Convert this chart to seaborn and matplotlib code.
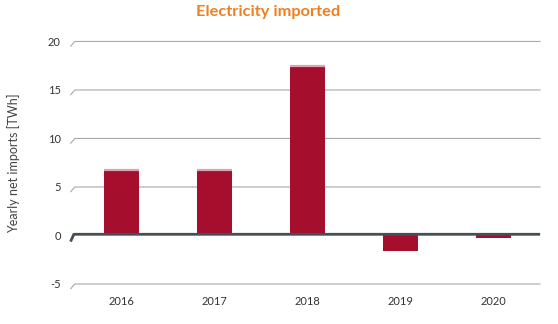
import matplotlib
matplotlib.use("Agg")
import matplotlib.pyplot as plt
import matplotlib.transforms as mtransforms
import numpy as np
import pandas as pd
import seaborn as sns

years = ["2016", "2017", "2018", "2019", "2020"]
net_imports = [6.7, 6.7, 17.5, -1.6, -0.25]
y_ticks = [-5, 0, 5, 10, 15, 20]

sns.set_theme(style="white")
plt.rcParams["font.family"] = ["Lato", "DejaVu Sans"]

df = pd.DataFrame({"year": years, "twh": net_imports})

fig = plt.figure(figsize=(5.58, 3.24), dpi=100)
ax = fig.add_axes([0.134, 0.1235, 0.834, 0.7485])

bar_color = "#a50f2d"
sns.barplot(data=df, x="year", y="twh", color=bar_color, saturation=1,
            width=0.375, ax=ax, zorder=3, edgecolor="none")

# lighter top face on positive bars
xs = np.arange(len(years))
for x, v in zip(xs, net_imports):
    if v > 0:
        ax.hlines(v, x - 0.1875, x + 0.1875, color="#dca4ae", lw=1.6, zorder=4)

ax.set_xlim(-0.5, len(years) - 0.5)
ax.set_ylim(min(y_ticks), max(y_ticks))

# gridlines with slanted stubs on the left
blend = mtransforms.blended_transform_factory(ax.transAxes, ax.transData)
lift = blend + mtransforms.ScaledTranslation(0, 1.2 / 100, fig.dpi_scale_trans)
for t in y_ticks:
    if t == 0:
        ax.plot([-0.009, -0.002, 1.0], [t - 0.75, t, t], transform=lift,
                color="#454d55", lw=2.0, zorder=5, clip_on=False,
                solid_capstyle="butt")
    else:
        ax.plot([-0.009, 0.0, 1.0], [t - 0.5, t, t], transform=blend,
                color="#a8a8a8", lw=0.8, zorder=2, clip_on=False)

ax.set_yticks(y_ticks)
ax.set_yticklabels([str(t) for t in y_ticks])
ax.tick_params(axis="y", length=0, pad=10, labelsize=8, labelcolor="#333333")
ax.tick_params(axis="x", length=0, pad=9, labelsize=8, labelcolor="#333333")
for s in ax.spines.values():
    s.set_visible(False)
ax.grid(False)

ax.set_xlabel("")
ax.set_ylabel("Yearly net imports [TWh]", fontsize=9, color="#444444", labelpad=20)

fig.text(0.48, 0.962, "Electricity imported", ha="center", va="center",
         fontsize=11.8, fontweight="bold", color="#f07f1f")

fig.savefig("out.png", dpi=100)
